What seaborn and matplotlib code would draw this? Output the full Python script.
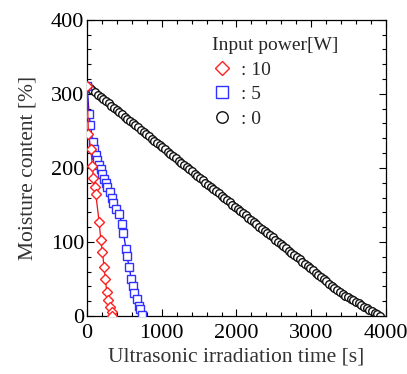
import numpy as np
import pandas as pd
import matplotlib
matplotlib.use("Agg")
import matplotlib.pyplot as plt
from matplotlib.ticker import MultipleLocator
import seaborn as sns

# 10 W
time_10 = [0, 17, 49, 71, 84, 103, 116, 161, 183, 205, 227, 245, 264, 285, 308, 330, 338]
moist_10 = [311, 246, 226, 203, 187, 174, 165, 127, 103, 87, 66, 50, 32, 22, 12, 5, 0]

# 5 W
time_5 = [0, 27, 44, 76, 94, 116, 138, 161, 183, 205, 227, 250, 272, 308, 330, 352, 388,
          432, 464, 486, 522, 531, 566, 589, 611, 633, 665, 696, 709, 740]
moist_5 = [311, 273, 258, 235, 226, 218, 211, 204, 198, 192, 185, 179, 174, 168, 160, 153, 144,
           138, 124, 112, 90, 81, 66, 50, 41, 31, 23, 14, 9, 2]

# 0 W
time_0 = [0, 36, 72, 108, 144, 180, 216, 252, 288, 324,
          360, 396, 432, 468, 504, 540, 576, 612, 648, 684,
          720, 756, 792, 828, 864, 900, 936, 972, 1008, 1044,
          1080, 1116, 1152, 1188, 1224, 1260, 1296, 1332, 1368, 1404,
          1440, 1476, 1512, 1548, 1584, 1620, 1656, 1692, 1728, 1764,
          1800, 1836, 1872, 1908, 1944, 1980, 2016, 2052, 2088, 2124,
          2160, 2196, 2232, 2268, 2304, 2340, 2376, 2412, 2448, 2484,
          2520, 2556, 2592, 2628, 2664, 2700, 2736, 2772, 2808, 2844,
          2880, 2916, 2952, 2988, 3024, 3060, 3096, 3132, 3168, 3204,
          3240, 3276, 3312, 3348, 3384, 3420, 3456, 3492, 3528, 3564,
          3600, 3636, 3672, 3708, 3744, 3780, 3816, 3852, 3888, 3924]
moist_0 = [311.0, 308.0, 305.1, 302.1, 299.1, 296.2, 293.2, 290.2, 287.2, 284.3,
           281.3, 278.3, 275.4, 272.4, 269.4, 266.5, 263.5, 260.5, 257.5, 254.6,
           251.6, 248.6, 245.7, 242.7, 239.7, 236.8, 233.8, 230.8, 227.8, 224.9,
           221.9, 218.9, 216.0, 213.0, 210.0, 207.1, 204.1, 201.1, 198.1, 195.2,
           192.2, 189.2, 186.3, 183.3, 180.3, 177.4, 174.4, 171.4, 168.4, 165.5,
           162.5, 159.5, 156.6, 153.6, 150.6, 147.7, 144.7, 141.7, 138.7, 135.8,
           132.8, 129.8, 126.9, 123.9, 120.9, 118.0, 115.0, 112.0, 109.0, 106.1,
           103.1, 100.1, 97.2, 94.2, 91.2, 88.3, 85.3, 82.3, 79.3, 76.4,
           73.4, 70.4, 67.5, 64.5, 61.5, 58.6, 55.6, 52.6, 49.6, 46.7,
           43.7, 40.7, 37.8, 34.8, 31.8, 29.7, 27.6, 25.4, 23.3, 21.2,
           19.1, 17.0, 14.8, 12.7, 10.6, 8.5, 6.4, 4.2, 2.1, 0.0]

sns.set_style("ticks")
plt.rcParams['font.family'] = ['Liberation Serif', 'DejaVu Serif']

fig = plt.figure(figsize=(4.07, 3.74), dpi=100)
ax = fig.add_axes([0.214, 0.155, 0.734, 0.792])

sns.lineplot(x=time_0, y=moist_0, ax=ax, sort=False, color='black', lw=0.8,
             marker='o', markersize=5.5, markerfacecolor='white', markeredgecolor='#111111',
             markeredgewidth=1.0, label=': 0', zorder=2)
sns.lineplot(x=time_5, y=moist_5, ax=ax, sort=False, color='#1010ee', lw=0.9,
             marker='s', markersize=5.5, markerfacecolor='white', markeredgecolor='#3030ff',
             markeredgewidth=1.0, label=': 5', zorder=3)
sns.lineplot(x=time_10, y=moist_10, ax=ax, sort=False, color='#ee1010', lw=0.9,
             marker='D', markersize=4.8, markerfacecolor='white', markeredgecolor='#ff2020',
             markeredgewidth=1.0, label=': 10', zorder=4)

ax.set_xlim(0, 4000)
ax.set_ylim(0, 400)
ax.xaxis.set_major_locator(MultipleLocator(1000))
ax.xaxis.set_minor_locator(MultipleLocator(200))
ax.yaxis.set_major_locator(MultipleLocator(100))
ax.yaxis.set_minor_locator(MultipleLocator(20))
ax.tick_params(which='both', direction='in', top=True, right=True, labelsize=16, width=0.8, colors='black')
ax.tick_params(which='major', length=5)
ax.tick_params(which='minor', length=3)
ax.tick_params(axis='x', pad=6)
ax.tick_params(axis='y', pad=2)
for s in ax.spines.values():
    s.set_linewidth(0.9)
    s.set_color('black')

ax.set_xlabel('Ultrasonic irradiation time [s]', fontsize=15.5, color='#333333', labelpad=3)
ax.set_ylabel('Moisture content [%]', fontsize=15.5, color='#333333', labelpad=10)

h, l = ax.get_legend_handles_labels()
leg = ax.legend(h[::-1], l[::-1], title='Input power[W]', loc='upper left',
                bbox_to_anchor=(0.38, 0.98), frameon=False, fontsize=14, title_fontsize=14,
                handlelength=1.0, handletextpad=0.5, labelspacing=0.35, borderpad=0.1,
                markerscale=1.5)
leg._legend_box.align = 'left'
for line in leg.get_lines():
    line.set_linestyle('')

plt.savefig('out.png', dpi=100)
